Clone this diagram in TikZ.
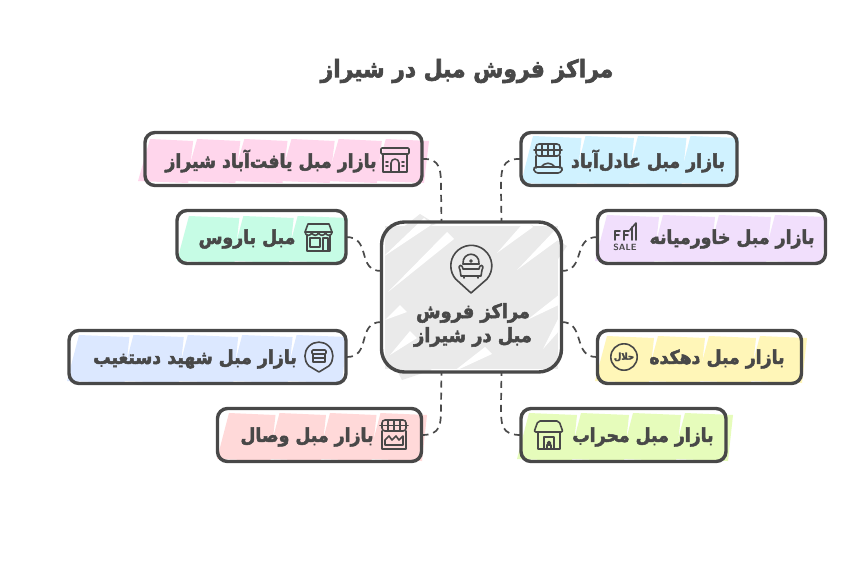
\documentclass[tikz,border=0pt]{standalone}
\usepackage{fontspec}
\usetikzlibrary{calc}
\TeXXeTstate=1
\newfontfamily\arabicfont[Script=Arabic,FakeStretch=0.91,BoldFeatures={FakeBold=2.6}]{DejaVu Sans}
\newcommand{\fa}[1]{{\arabicfont\bfseries\beginR #1\endR}}
\definecolor{ink}{HTML}{484848}
\definecolor{linkgrey}{HTML}{4A4A4A}
\definecolor{huegrey}{HTML}{EAEAEA}
\definecolor{huepink}{HTML}{FFD6EC}
\definecolor{huemint}{HTML}{C6FCE5}
\definecolor{huesky}{HTML}{D0F2FF}
\definecolor{huelilac}{HTML}{F1DFFC}
\definecolor{hueblue}{HTML}{DCE8FF}
\definecolor{huerose}{HTML}{FFD9D9}
\definecolor{hueyellow}{HTML}{FFF6B8}
\definecolor{huelime}{HTML}{E6FCBB}
\tikzset{
  mktbox/.style={draw=ink,line width=3.4pt,rounded corners=10pt,inner sep=0pt,outer sep=0pt,minimum height=53pt},
  hubbox/.style={draw=ink,line width=3.4pt,rounded corners=23pt,inner sep=0pt,outer sep=0pt},
  lbl/.style={text=ink,inner sep=0pt,font=\fontsize{19}{20}\selectfont},
  link/.style={draw=linkgrey,line width=1.7pt,dash pattern=on 7pt off 5pt},
  icon/.style={draw=ink,line width=1.6pt,line join=round,line cap=round}
}
% pale strokes behind a box: x0,y0,x1,y1,colour
\newcommand{\hachure}[5]{%
  \pgfmathsetmacro{\nb}{int((#3-#1)/46)}
  \pgfmathsetmacro{\bw}{(#3-#1)/\nb}
  \foreach \i in {1,...,\nb} {
    \pgfmathsetmacro{\xa}{#1+(\i-1)*\bw}
    \pgfmathsetmacro{\xb}{#1+\i*\bw}
    \fill[#5] (\xa-5,#4) -- (\xa+7,#2+1) -- (\xb+3,#2+3) -- (\xb-2,#4+2) -- cycle;
  }
}
\begin{document}
\begin{tikzpicture}[x=1pt,y=-1pt]
\useasboundingbox (0,0) rectangle (850,576);
\fill[white] (0,0) rectangle (850,576);
% title
\node[lbl,font=\fontsize{24}{28}\selectfont] (title) at (467,71) {\fa{مراکز فروش مبل در شیراز}};
% strokes
\hachure{143}{138}{426}{181}{huepink}
\hachure{182}{215}{345}{261}{huemint}
\hachure{526}{135}{736}{183}{huesky}
\hachure{600}{214}{824}{261}{huelilac}
\hachure{72}{334}{344}{381}{hueblue}
\hachure{222}{412}{424}{459}{huerose}
\hachure{600}{335}{804}{381}{hueyellow}
\hachure{522}{412}{730}{459}{huelime}
% hub strokes
\fill[huegrey] (385,226) rectangle (558,369);
\fill[huegrey] (387,240) -- (420,214) -- (436,224) -- cycle;
\fill[huegrey] (530,224) -- (567,246) -- (556,262) -- cycle;
\fill[huegrey] (386,350) -- (402,380) -- (432,370) -- cycle;
\foreach \xa/\ya/\xb/\yb in {383/257/424/218, 388/292/447/232, 517/270/555/230, 497/253/526/220, 527/320/560/294, 453/372/485/347, 543/349/560/315, 390/355/410/331, 385/320/400/305} {
  \fill[white] (\xa,\ya) -- (\xb,\yb) -- (\xb+7,\yb+7) -- cycle;
}
% connectors
\node[hubbox,minimum width=180pt,minimum height=150pt] (hub) at (471.5,297) {};
\coordinate (hubNW) at ($(hub.north)+(-30,0)$);
\coordinate (hubNE) at ($(hub.north)+(30,0)$);
\coordinate (hubSW) at ($(hub.south)+(-30,0)$);
\coordinate (hubSE) at ($(hub.south)+(30,0)$);
\coordinate (hubWU) at ($(hub.west)+(0,-26)$);
\coordinate (hubWD) at ($(hub.west)+(0,25)$);
\coordinate (hubEU) at ($(hub.east)+(0,-26)$);
\coordinate (hubED) at ($(hub.east)+(0,25)$);
% boxes
\node[mktbox,minimum width=277pt] (yaft) at (283.5,159) {};
\node[mktbox,minimum width=169pt] (baru) at (261.5,237) {};
\node[mktbox,minimum width=216pt] (adel) at (629,159) {};
\node[mktbox,minimum width=228pt] (khav) at (711.5,237) {};
\node[mktbox,minimum width=277pt] (dast) at (207.5,357) {};
\node[mktbox,minimum width=204pt] (vesal) at (319.5,435) {};
\node[mktbox,minimum width=204pt] (deh) at (699.5,357) {};
\node[mktbox,minimum width=205pt] (mehr) at (623.5,435) {};
\draw[link] (yaft.east) .. controls (441,158) and (441,170) .. (441,190) -- (hubNW);
\draw[link] (adel.west) .. controls (501,158) and (501,170) .. (501,190) -- (hubNE);
\draw[link] (baru.east) .. controls (372,237) and (356,271) .. (hubWU);
\draw[link] (khav.west) .. controls (572,237) and (586,271) .. (hubEU);
\draw[link] (dast.east) .. controls (372,358) and (356,322) .. (hubWD);
\draw[link] (deh.west) .. controls (572,358) and (586,322) .. (hubED);
\draw[link] (vesal.east) .. controls (441,435) and (441,425) .. (441,405) -- (hubSW);
\draw[link] (mehr.west) .. controls (501,435) and (501,425) .. (501,405) -- (hubSE);
% labels
\node[lbl] (yaftlbl) at (271,161) {\fa{بازار مبل یافت‌آباد شیراز}};
\node[lbl] (barulbl) at (247,239) {\fa{مبل باروس}};
\node[lbl] (adellbl) at (648,161) {\fa{بازار مبل عادل‌آباد}};
\node[lbl] (khavlbl) at (732,239) {\fa{بازار مبل خاورمیانه}};
\node[lbl] (dastlbl) at (195,359) {\fa{بازار مبل شهید دستغیب}};
\node[lbl] (vesallbl) at (307,437) {\fa{بازار مبل وصال}};
\node[lbl] (dehlbl) at (717,359) {\fa{بازار مبل دهکده}};
\node[lbl] (mehrlbl) at (643,437) {\fa{بازار مبل محراب}};
\node[lbl,font=\fontsize{19.5}{24}\selectfont,align=center] (hublbl) at (473,325) {\fa{مراکز فروش}\\\fa{مبل در شیراز}};
% icons
\begin{scope}[shift={(380,148)},icon]
\draw[rounded corners=1pt] (1,0) rectangle (29,6);
\draw (3,6) -- (3,24) -- (27,24) -- (27,6);
\draw (11,24) -- (11,15) arc[start angle=180,end angle=360,radius=4] -- (19,24);
\draw (6,14) -- (8,14) (22,14) -- (24,14) (6,18) -- (8,18) (22,18) -- (24,18);
\end{scope}
\begin{scope}[shift={(305,224)},icon]
\draw (3,0) -- (24,0) -- (27,8) -- (0,8) -- cycle;
\draw (0,8) arc[start angle=180,end angle=0,radius=3.4] arc[start angle=180,end angle=0,radius=3.4] arc[start angle=180,end angle=0,radius=3.4] arc[start angle=180,end angle=0,radius=3.4];
\draw (2,11) -- (2,27) -- (25,27) -- (25,11);
\draw (5,14) rectangle (15,23);
\draw (18,14) rectangle (23,27);
\end{scope}
\begin{scope}[shift={(533,144)},icon]
\draw[rounded corners=3pt] (3,0) rectangle (27,12);
\draw (9,0) -- (9,12) (15,0) -- (15,12) (21,0) -- (21,12) (1,6) -- (29,6);
\draw (3,12) -- (3,24) (27,12) -- (27,24);
\draw[rounded corners=3pt] (0,23) -- (30,23) -- (28,29) -- (2,29) -- cycle;
\draw (8,23) .. controls (12,18) and (18,18) .. (22,23);
\end{scope}
\begin{scope}[shift={(613,223)},icon]
\node[text=ink,inner sep=0pt,font=\fontsize{9}{10}\selectfont\bfseries\sffamily] (salelbl) at (12,24) {SALE};
\draw (2,17) -- (2,8) -- (7,8) (2,12) -- (6,12);
\draw (11,17) -- (11,8) -- (16,8) (11,12) -- (15,12);
\draw (19,4) -- (19,17) (23,17) -- (23,0) -- (17,7);
\end{scope}
\begin{scope}[shift={(305,342)},icon]
\draw (14,30) -- (4,24) arc[start angle=135,end angle=405,radius=14] -- cycle;
\draw[rounded corners=1pt] (7,8) rectangle (21,12);
\draw (8,12) -- (8,20) -- (20,20) -- (20,12) (8,16) -- (20,16);
\end{scope}
\begin{scope}[shift={(379,420)},icon]
\draw[rounded corners=3pt] (3,0) rectangle (27,11);
\draw (9,0) -- (9,11) (15,0) -- (15,11) (21,0) -- (21,11) (1,5.5) -- (29,5.5);
\draw (3,11) -- (3,29) -- (27,29) -- (27,11);
\draw (6,25) -- (6,20) -- (10,16) -- (13,20) -- (17,16) -- (20,20) -- (24,16) -- (24,25) -- cycle;
\end{scope}
\begin{scope}[shift={(610,343)},icon]
\draw (14,14) circle[radius=13.2];
\node[text=ink,inner sep=0pt,font=\fontsize{9.5}{10}\selectfont] (halal) at (14,14) {\fa{حلال}};
\end{scope}
\begin{scope}[shift={(534,421)},icon]
\draw[rounded corners=2pt] (4,0) -- (25,0) -- (29,11) -- (0,11) -- cycle;
\draw (4,11) -- (4,28) -- (26,28) -- (26,11);
\draw (10,28) -- (10,16) -- (20,16) -- (20,28) -- cycle;
\draw (13,24) rectangle (17,28);
\draw (15,22) circle[radius=1.6];
\end{scope}
\begin{scope}[shift={(450,246)},icon]
\draw (21,47) -- (37,33) arc[start angle=40,end angle=-220,radius=20.5] -- cycle;
\draw (21,15) circle[radius=1];
\draw (13,18) .. controls (12,5) and (30,5) .. (29,18);
\draw (10,24) .. controls (7,18) and (13,18) .. (13,23) -- (29,23) .. controls (29,18) and (35,18) .. (32,24) -- (31,30) -- (11,30) -- cycle;
\draw (13,18) -- (29,18) (14,30) -- (14,32) (28,30) -- (28,32);
\end{scope}
\end{tikzpicture}
\end{document}
